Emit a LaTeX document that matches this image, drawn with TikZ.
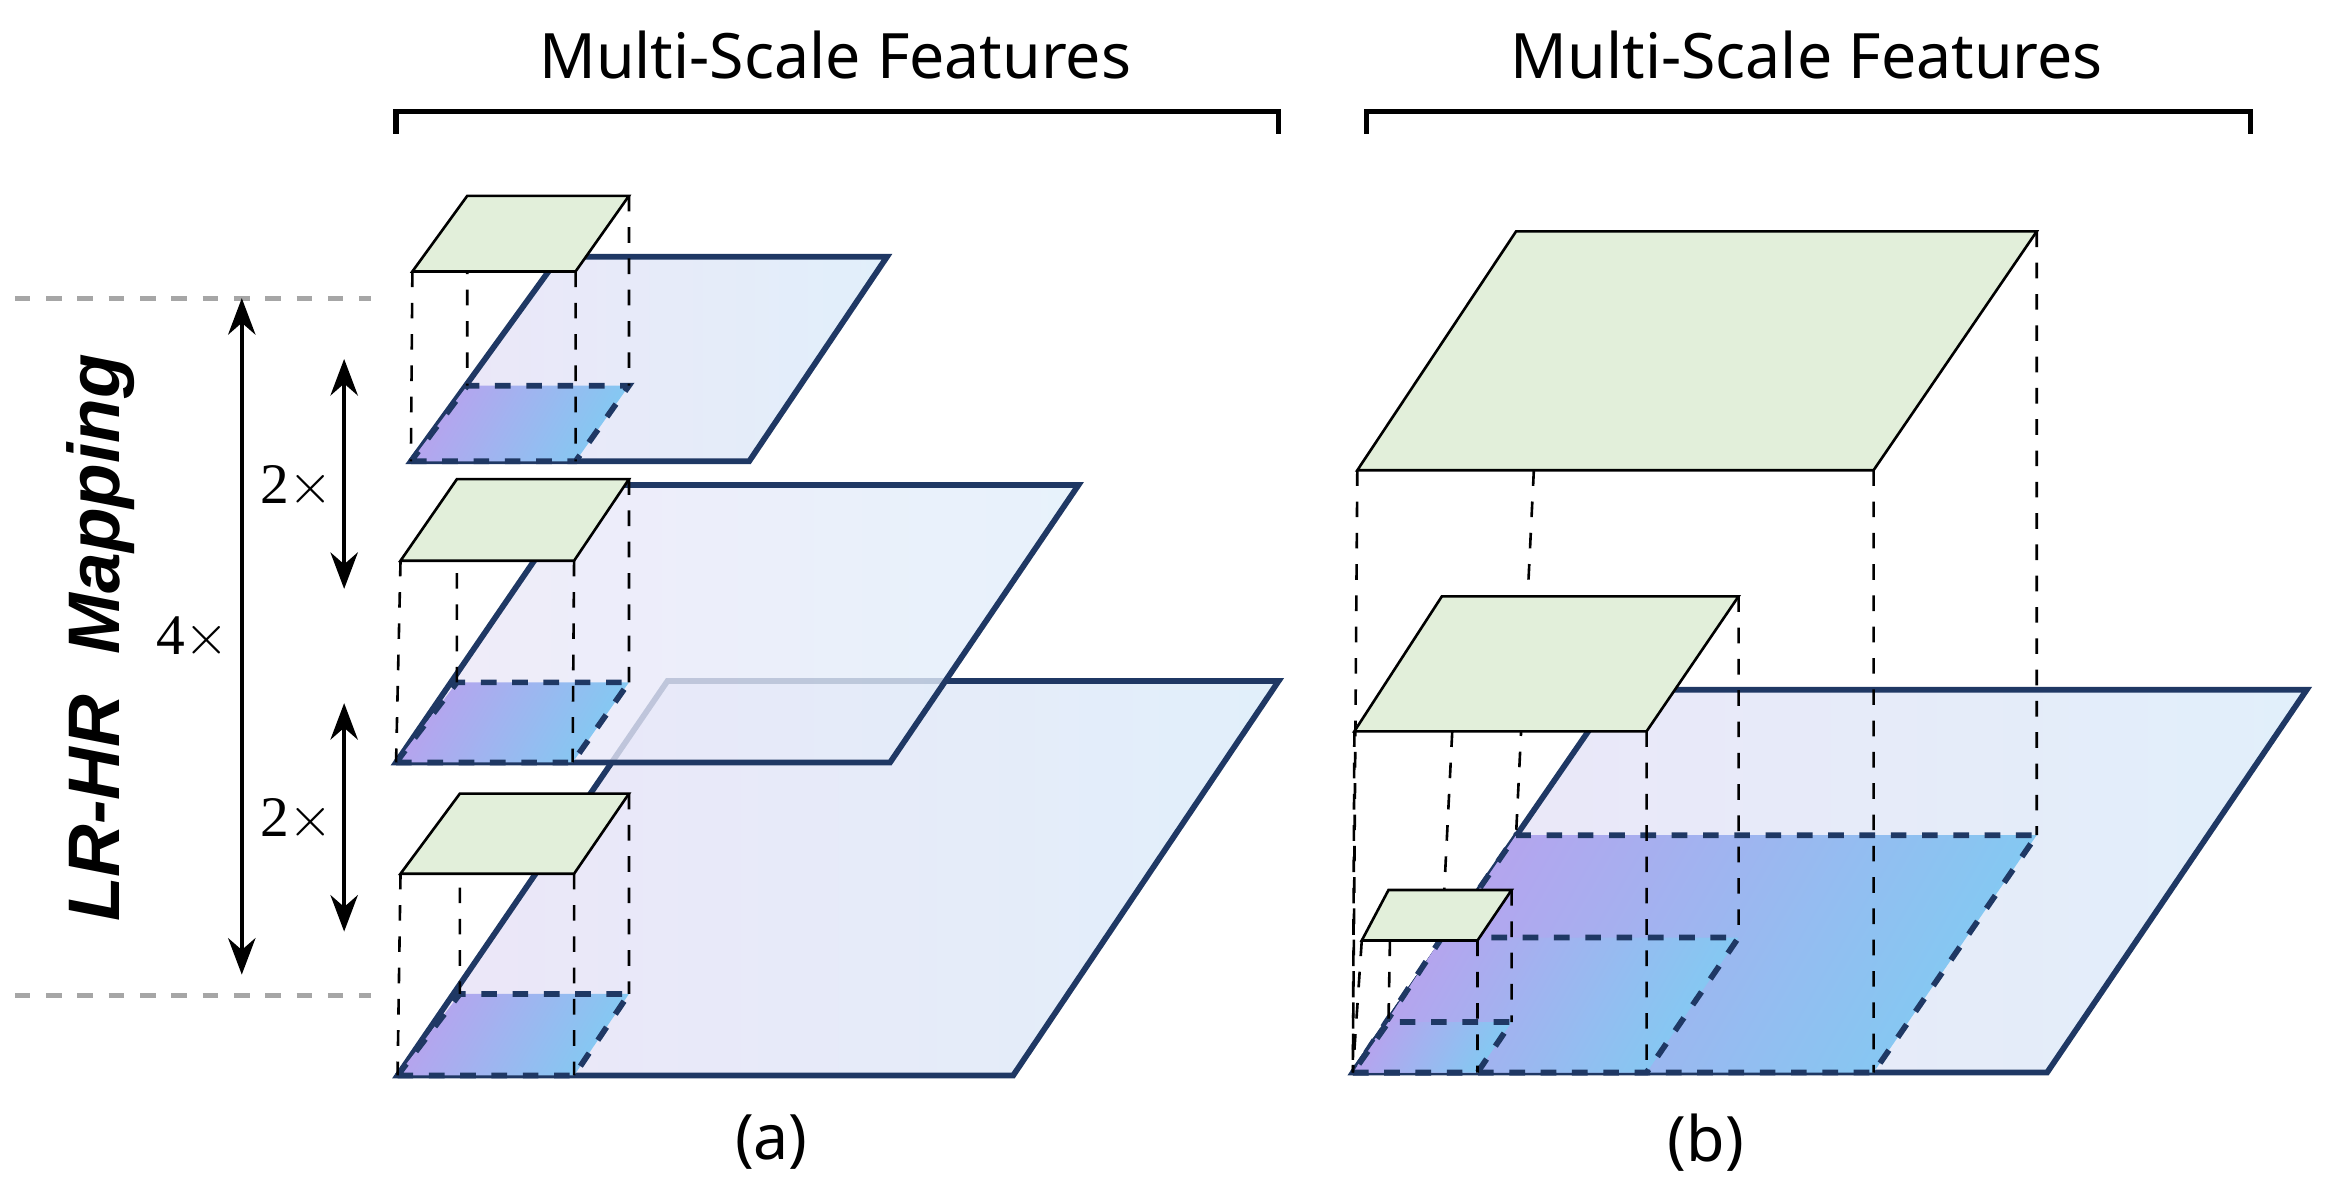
\documentclass[tikz,border=0pt]{standalone}
\usepackage{fontspec}
\setmainfont{Liberation Serif}
\newfontfamily\ttl{Noto Sans}
\newfontfamily\lbl{Liberation Sans}
\usetikzlibrary{arrows.meta}
\definecolor{edge}{HTML}{1F3864}
\definecolor{gfill}{HTML}{E2EFDA}
\definecolor{pl}{HTML}{ECE6F8}
\definecolor{bl}{HTML}{E1EFFA}
\definecolor{gp}{HTML}{B8A2EE}
\definecolor{gb}{HTML}{82CAF2}
\tikzset{
 plane/.style={draw=edge,line width=1.1pt,left color=pl,right color=bl},
 grad/.style={draw=edge,dashed,line width=1.1pt,shading=axis,left color=gp,right color=gb,shading angle=60},
 green/.style={draw=black,line width=0.5pt,fill=gfill},
 vd/.style={dashed,line width=0.5pt},
 gl/.style={dashed,gray!70,line width=1pt},
 ar/.style={{Stealth[length=7pt]}-{Stealth[length=7pt]},line width=0.7pt}
}
\newcommand{\layer}[8]{%
 \shade[grad] #1--#2--#3--#4--cycle;
 \draw[vd] #5--#1 #6--#2 #7--#3 #8--#4;
 \draw[green] #5--#6--#7--#8--cycle;}
\begin{document}
\begin{tikzpicture}[x=0.01cm,y=-0.01cm]
\useasboundingbox (0,0) rectangle (1568,803);
\node[font=\ttl\fontsize{12}{14}\selectfont] (t1) at (563,37) {Multi-Scale Features};
\node[font=\ttl\fontsize{12}{14}\selectfont] (t2) at (1218,37) {Multi-Scale Features};
\draw[line width=1pt] (267,90)--(267,75)--(862,75)--(862,90);
\draw[line width=1pt] (921,90)--(921,75)--(1517,75)--(1517,90);
\node[font=\ttl\fontsize{12}{14}\selectfont] (la) at (520,770) {(a)};
\node[font=\ttl\fontsize{12}{14}\selectfont] (lb) at (1150,770) {(b)};
\draw[gl] (10,201)--(250,201);
\draw[gl] (10,671)--(250,671);
\draw[ar] (163,201)--(163,657);
\draw[ar] (232,242)--(232,397);
\draw[ar] (232,474)--(232,628);
\node[font=\fontsize{11}{13}\selectfont] at (130,430) {4$\times$};
\node[font=\fontsize{11}{13}\selectfont] at (200,328) {2$\times$};
\node[font=\fontsize{11}{13}\selectfont] at (200,553) {2$\times$};
\node[rotate=90,font=\lbl\bfseries\itshape\fontsize{14}{16}\selectfont] at (68,430) {LR-HR\ \ Mapping};
\shade[plane] (268,725)--(683,725)--(862,459)--(450,459)--cycle;
\layer{(268,725)}{(387,725)}{(424,670)}{(310,670)}{(270,589)}{(387,589)}{(424,535)}{(310,535)}
\shade[plane,fill opacity=0.8] (267,514)--(600,514)--(727,327)--(395,327)--cycle;
\layer{(267,514)}{(386,514)}{(424,460)}{(308,460)}{(270,378)}{(387,378)}{(424,323)}{(308,323)}
\shade[plane] (277,311)--(505,311)--(598,173)--(377,173)--cycle;
\layer{(277,311)}{(388,311)}{(424,260)}{(315,260)}{(278,183)}{(388,183)}{(424,132)}{(315,132)}
\shade[plane] (912,723)--(1380,723)--(1555,465)--(1090,465)--cycle;
\shade[grad] (912,723)--(1263,723)--(1373,563)--(1022,563)--cycle;
\shade[grad] (912,723)--(1110,723)--(1172,632)--(972,632)--cycle;
\shade[grad] (912,723)--(996,723)--(1019,689)--(936,689)--cycle;
\draw[vd] (915,317)--(912,723) (1263,317)--(1263,723) (1373,156)--(1373,563) (1034,317)--(1022,563);
\draw[green] (915,317)--(1263,317)--(1373,156)--(1022,156)--cycle;
\draw[vd] (913,493)--(912,723) (1110,493)--(1110,723) (1172,402)--(1172,632) (979,493)--(972,632);
\draw[green] (913,493)--(1110,493)--(1172,402)--(972,402)--cycle;
\draw[vd] (918,634)--(912,723) (996,634)--(996,723) (1019,600)--(1019,689) (937,634)--(936,689);
\draw[green] (918,634)--(996,634)--(1019,600)--(936,600)--cycle;
\end{tikzpicture}
\end{document}
